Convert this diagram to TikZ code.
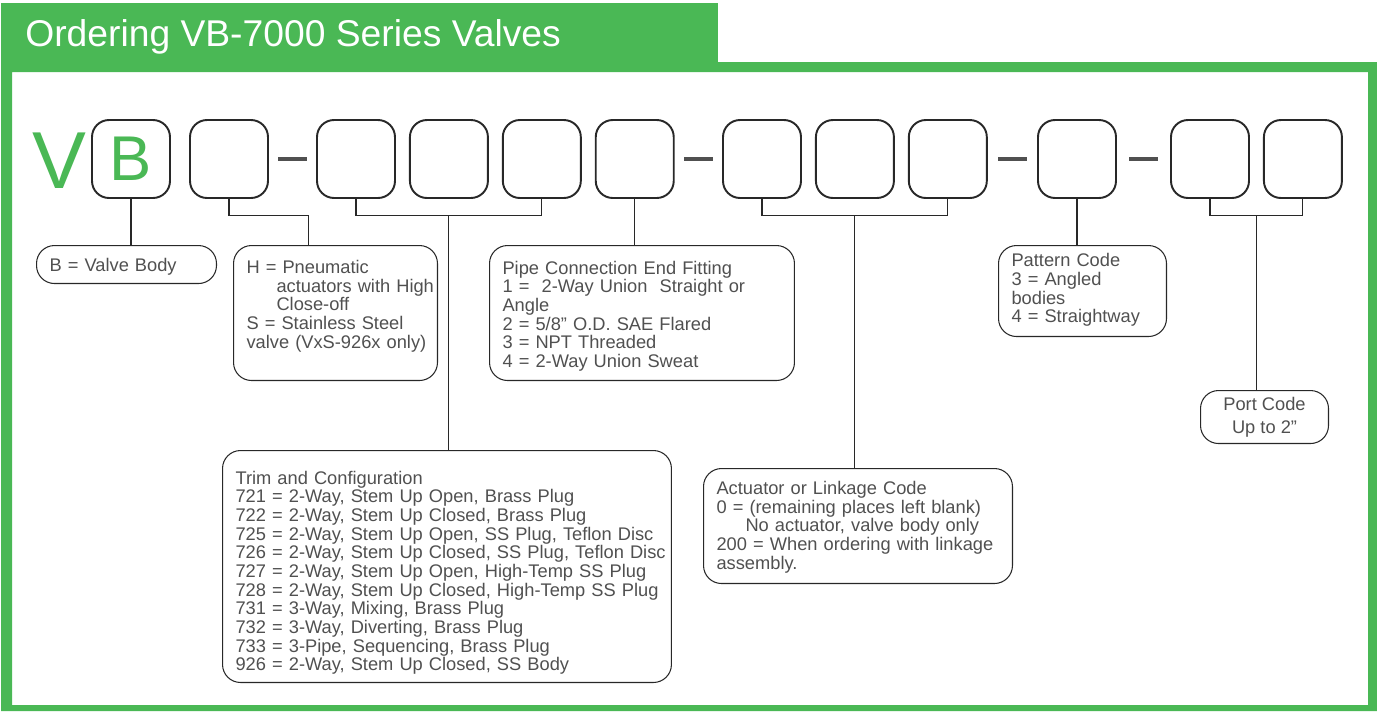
\documentclass[tikz,border=0pt]{standalone}
\usepackage{fontspec}
\setmainfont{Liberation Sans}
\usetikzlibrary{positioning, calc}
\definecolor{vbgreen}{RGB}{74,184,85}
\definecolor{inkgray}{RGB}{80,80,80}
\definecolor{linegray}{RGB}{40,40,40}
\tikzset{slot/.style = {
  % code place
  rectangle,
  draw=linegray, line width=1.1pt,
  rounded corners=0.34cm,
  minimum width=1.56cm, minimum height=1.56cm,
  inner sep=0pt
  }}
\tikzset{hyphen/.style = {
  rectangle,
  fill=inkgray,
  minimum width=0.58cm, minimum height=0.08cm,
  inner sep=0pt
  }}
\tikzset{legend/.style = {
  % Rectangle:
  rectangle,
  draw=linegray, line width=0.6pt,
  rounded corners=0.36cm,
  anchor=north west,
  inner xsep=0.26cm, inner ysep=0pt,
  % Text
  align=left, text=inkgray,
  font=\fontsize{10.4}{10.3}\selectfont
  }}
\tikzset{link/.style = {
  draw=linegray,
  line width=0.6pt
  }}
\newcommand{\legendrows}[2][0cm]{\raisebox{-#1}[\height][\depth]{\begin{tabular}{@{}l@{}}#2\end{tabular}}}

\begin{document}
\begin{tikzpicture}[x=0.02cm, y=-0.02cm]
\useasboundingbox (0,0) rectangle (1377,711);

% FRAME
\fill [vbgreen, even odd rule] (1,62) rectangle (1377,711) (12,72) rectangle (1368,705);
\fill [vbgreen] (1,3) rectangle (718,72);
\node (title) [anchor=base west, inner sep=0pt, text=white, font=\fontsize{21.2}{24}\selectfont] at (25,46) {Ordering VB-7000 Series Valves};

% PLACES
\node (v) [anchor=base, text=vbgreen, font=\fontsize{46}{46}\selectfont] at (59,188) {V};
\node (s1) [slot, text=vbgreen, font=\fontsize{36}{36}\selectfont] at (131,159) {B};
\node (s2) [slot] at (229,159) {};

\node (s3) [slot] at (356,159) {};
\node (s4) [slot, right=0.26cm of s3] {};
\node (s5) [slot, right=0.26cm of s4] {};
\node (s6) [slot, right=0.26cm of s5] {};

\node (s7) [slot] at (762,159) {};
\node (s8) [slot, right=0.26cm of s7] {};
\node (s9) [slot, right=0.26cm of s8] {};

\node (s10) [slot] at (1077,159) {};

\node (s11) [slot] at (1210,159) {};
\node (s12) [slot, right=0.26cm of s11] {};

\node (d1) [hyphen] at ($(s2.east)!0.5!(s3.west)$) {};
\node (d2) [hyphen] at ($(s6.east)!0.5!(s7.west)$) {};
\node (d3) [hyphen] at ($(s9.east)!0.5!(s10.west)$) {};
\node (d4) [hyphen] at ($(s10.east)!0.5!(s11.west)$) {};

% LEGENDS
\node (bbody) [legend, text width=3.08cm, minimum height=0.76cm] at (36,245)
  {\legendrows[0.07cm]{B = Valve Body}};
\node (hcode) [legend, text width=3.56cm, minimum height=2.7cm] at (233,245)
  {\legendrows[0.06cm]{
  H = Pneumatic\\
  \hspace*{0.6cm}actuators with High\\
  \hspace*{0.6cm}Close-off\\
  S = Stainless Steel\\
  valve (VxS-926x only)\\
  ~}};
\node (pipe) [legend, text width=5.58cm, minimum height=2.7cm] at (489,245)
  {\legendrows[0.08cm]{
  Pipe Connection End Fitting\\
  1 =\ \ 2-Way Union\ \ Straight or\\
  Angle\\
  2 = 5/8” O.D. SAE Flared\\
  3 = NPT Threaded\\
  4 = 2-Way Union Sweat}};
\node (pattern) [legend, text width=2.84cm, minimum height=1.82cm] at (998,245)
  {\legendrows{
  Pattern Code\\
  3 = Angled\\
  bodies\\
  4 = Straightway}};
\node (port) [legend, align=center, minimum width=2.56cm, minimum height=1.06cm] at (1200,390)
  {Port Code\\[3pt]Up to 2”};
\node (trim) [legend, text width=8.46cm, minimum height=4.64cm] at (222,450)
  {\legendrows[0.14cm]{
  Trim and Configuration\\
  721 = 2-Way, Stem Up Open, Brass Plug\\
  722 = 2-Way, Stem Up Closed, Brass Plug\\
  725 = 2-Way, Stem Up Open, SS Plug, Teflon Disc\\
  726 = 2-Way, Stem Up Closed, SS Plug, Teflon Disc\\
  727 = 2-Way, Stem Up Open, High-Temp SS Plug\\
  728 = 2-Way, Stem Up Closed, High-Temp SS Plug\\
  731 = 3-Way, Mixing, Brass Plug\\
  732 = 3-Way, Diverting, Brass Plug\\
  733 = 3-Pipe, Sequencing, Brass Plug\\
  926 = 2-Way, Stem Up Closed, SS Body}};
\node (act) [legend, text width=5.66cm, minimum height=2.3cm] at (703,468)
  {\legendrows[0.04cm]{
  Actuator or Linkage Code\\
  0 = (remaining places left blank)\\
  \hspace*{0.58cm}No actuator, valve body only\\
  200 = When ordering with linkage\\
  assembly.}};

% LINKS
\draw [link] (s1.south) -- (s1.south |- bbody.north);
\draw [link] (s2.south) -- ++(0,17) -| ($(hcode.north west)!0.37!(hcode.north east)$);
\draw [link] (s3.south) -- ++(0,17) coordinate (k3) -| (s5.south);
\draw [link] (k3 -| s4.south) -- (trim.north -| s4.south);
\draw [link] (s6.south) -- (s6.south |- pipe.north);
\draw [link] (s7.south) -- ++(0,17) coordinate (k7) -| (s9.south);
\draw [link] (k7 -| s8.south) -- (act.north -| s8.south);
\draw [link] (s10.south) -- (s10.south |- pattern.north);
\draw [link] (s11.south) -- ++(0,17) coordinate (k11) -| (s12.south);
\coordinate (m11) at ($(s11.south)!0.5!(s12.south)$);
\draw [link] (m11 |- k11) -- (m11 |- port.north);
\end{tikzpicture}
\end{document}
